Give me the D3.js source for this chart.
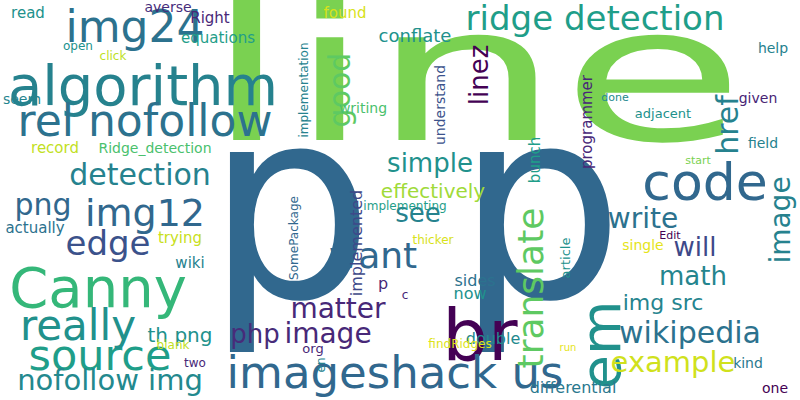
<!DOCTYPE html>
<html><head><meta charset="utf-8">
<script src="https://cdn.jsdelivr.net/npm/d3@7"></script>
<style>body{margin:0;background:#fff}</style>
</head><body><svg id="cloud"></svg>
<script>
// word cloud data: word, font size, anchor (baseline middle), vertical flag, colour
const words  = ["line","p","p","algorithm","Canny","br","em","code","ridge detection","img24","rel nofollow","imageshack us","source","really","edge","img12","detection","png","want","good","simple","see","matter","php","image","th png","nofollow img","translate","write","will","math","wikipedia","example","img src","image","href","linez","effectively","implemented","conflate","found","Right","equations","averse","read","open","click","seem","record","Ridge_detection","trying","wiki","actually","blank","two","implementation","writing","implementing","SomePackage","thicker","sides","now","double","differential","understand","bunch","programmer","done","adjacent","given","help","field","start","Edit","single","article","kind","one","run","findRidges","org","en","c","p"];
const sizes  = [188,265,265,56,56,72,56,52,34,44,44,45,43,42,34,38,30,30,36,30,26,26,28,26,28,20,29,36,28,26,26,30,29,22,28,30,26,20,16,18,15,15,15,14,15,12,12,14,15,14,15,15,15,12,12,12,14,12,12,12,16,16,16,16,14,15,15,11,13,14,14,14,11,11,14,13,14,14,10,12,13,12,12,16];
const widths = [540,0,0,0,0,0,0,0,0,0,0,0,0,0,0,0,0,0,0,0,0,0,0,0,0,0,0,0,0,0,0,0,0,0,0,0,0,0,0,0,0,0,0,0,0,0,0,0,0,0,0,0,0,0,0,0,0,0,0,0,0,0,0,0,0,0,0,0,0,0,0,0,0,0,0,0,0,0,0,0,0,0,0,0];
const xs     = [475,290,540,143,98,480,620,705,595,135,145,395,100,78,108,145,140,43,373,350,430,418,338,255,328,180,110,543,643,695,693,690,673,663,790,738,488,433,362,415,345,210,218,168,28,78,113,22,55,155,180,190,35,173,195,308,363,405,298,433,475,470,493,573,445,540,592,615,663,758,773,763,698,670,643,570,748,775,568,460,313,325,405,383];
const ys     = [140,297,297,105,307,360,345,200,30,42,136,388,370,340,255,226,185,215,268,90,172,222,318,343,343,342,390,288,228,256,285,343,372,310,220,125,75,198,243,42,18,23,43,12,18,50,60,104,153,153,243,268,233,349,367,90,113,210,238,244,286,299,344,393,105,160,122,101,118,103,53,148,164,239,250,258,368,393,351,348,353,365,299,289];
const vert   = [0,0,0,0,0,0,1,0,0,0,0,0,0,0,0,0,0,0,0,1,0,0,0,0,0,0,0,1,0,0,0,0,0,0,1,1,1,0,1,0,0,0,0,0,0,0,0,0,0,0,0,0,0,0,0,1,0,0,1,0,0,0,0,0,1,1,1,0,0,0,0,0,0,0,0,1,0,0,0,0,0,1,0,0];
const colors = ["#7ad151","#31688e","#31688e","#26828e","#35b779","#440154","#21918c","#31688e","#1f9e89","#2c728e","#2c728e","#31688e","#1f9e89","#21918c","#3b528b","#31688e","#26828e","#31688e","#31688e","#5ec962","#21918c","#26828e","#482878","#472c7a","#482878","#21918c","#23898e","#5ec962","#2c728e","#3e4989","#25858e","#2c728e","#d0e11c","#25848e","#26828e","#26828e","#440154","#a0da39","#3e4989","#21918c","#d8e219","#482878","#1f9e89","#472d7b","#21918c","#21918c","#bddf26","#25848e","#c2df23","#4ac16d","#c8e020","#26828e","#2c728e","#c2df23","#482878","#26828e","#4ac16d","#1f9e89","#31688e","#d8e219","#2c728e","#21918c","#23898e","#2a788e","#3b528b","#1f9e89","#482878","#23898e","#21918c","#482475","#26828e","#26828e","#7ad151","#440154","#e5e419","#21918c","#2a788e","#440154","#e5e419","#dde318","#482878","#26828e","#482878","#482878"];

const width = 800, height = 400;
const x = d3.scaleLinear().domain([0, 800]).range([0, width]);
const y = d3.scaleLinear().domain([0, 400]).range([0, height]);

const svg = d3.select("#cloud").attr("width", width).attr("height", height);

const t = svg.selectAll("text")
  .data(words.map((w, i) => ({w, s: sizes[i], len: widths[i], x: xs[i], y: ys[i], v: vert[i], c: colors[i]})))
  .join("text")
  .attr("transform", d => `translate(${x(d.x)},${y(d.y)})` + (d.v ? " rotate(-90)" : ""))
  .attr("text-anchor", "middle")
  .attr("font-family", "DejaVu Sans")
  .attr("font-size", d => d.s)
  .attr("fill", d => d.c)
  .text(d => d.w);

// stretch words whose drawn width is wider than the font gives
t.filter(d => d.len > 0)
  .attr("textLength", d => d.len)
  .attr("lengthAdjust", "spacingAndGlyphs");
</script>
</body></html>
